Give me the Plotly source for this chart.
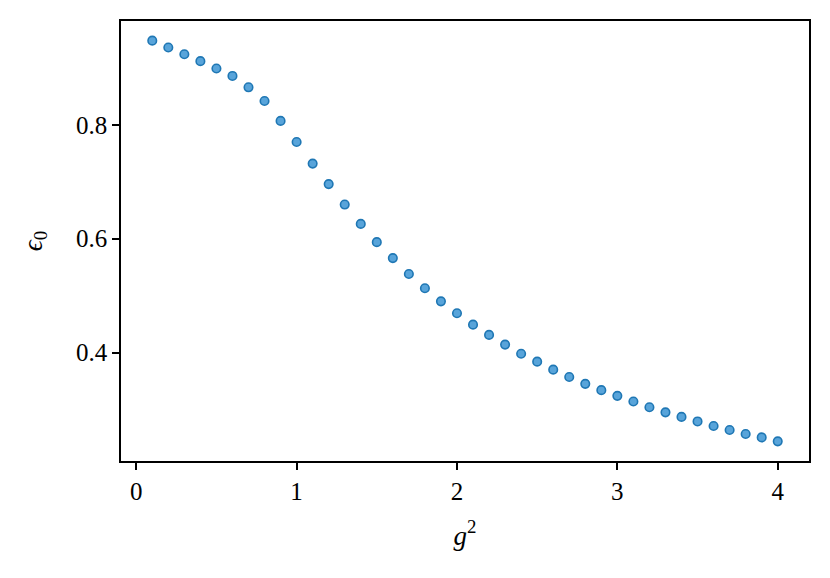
import plotly.graph_objects as go

# g^2 values and ground-state energy eps_0
g2 = [0.1, 0.2, 0.3, 0.4, 0.5, 0.6, 0.7, 0.8, 0.9, 1.0,
      1.1, 1.2, 1.3, 1.4, 1.5, 1.6, 1.7, 1.8, 1.9, 2.0,
      2.1, 2.2, 2.3, 2.4, 2.5, 2.6, 2.7, 2.8, 2.9, 3.0,
      3.1, 3.2, 3.3, 3.4, 3.5, 3.6, 3.7, 3.8, 3.9, 4.0]
eps0 = [0.948, 0.936, 0.924, 0.912, 0.899, 0.886, 0.866, 0.842, 0.807, 0.770,
        0.732, 0.696, 0.660, 0.626, 0.594, 0.566, 0.538, 0.513, 0.490, 0.469,
        0.449, 0.431, 0.414, 0.398, 0.384, 0.370, 0.357, 0.345, 0.334, 0.324,
        0.314, 0.304, 0.295, 0.287, 0.279, 0.271, 0.264, 0.257, 0.251, 0.244]

x_ticks = [0, 1, 2, 3, 4]
y_ticks = [0.4, 0.6, 0.8]

FONT = "Liberation Serif, DejaVu Serif, serif"

fig = go.Figure()
fig.add_trace(go.Scatter(
    x=g2, y=eps0, mode="markers",
    marker=dict(size=8.5, color="rgb(88,164,218)",
                line=dict(color="#1f77b4", width=1.6)),
    showlegend=False,
))

axis_style = dict(
    showline=True, linecolor="black", linewidth=1.5, mirror=True,
    ticks="outside", ticklen=7, tickwidth=1.5, tickcolor="black",
    showgrid=False, zeroline=False,
    tickfont=dict(family=FONT, size=25, color="black"),
)

fig.update_xaxes(
    range=[-0.095, 4.195], tickvals=x_ticks,
    title=dict(text="<i>g</i><sup>2</sup>", font=dict(family=FONT, size=27, color="black"),
               standoff=22),
    **axis_style,
)
fig.update_yaxes(
    range=[0.2095, 0.9825], tickvals=y_ticks, tickformat=".1f",
    title=dict(text="<i>ϵ</i><sub>0</sub>", font=dict(family=FONT, size=27, color="black"),
               standoff=26),
    **axis_style,
)

fig.update_layout(
    width=830, height=578,
    margin=dict(l=113, r=29, t=13, b=125),
    plot_bgcolor="white", paper_bgcolor="white",
    font=dict(family=FONT, color="black"),
)

fig.write_html("out.html")
